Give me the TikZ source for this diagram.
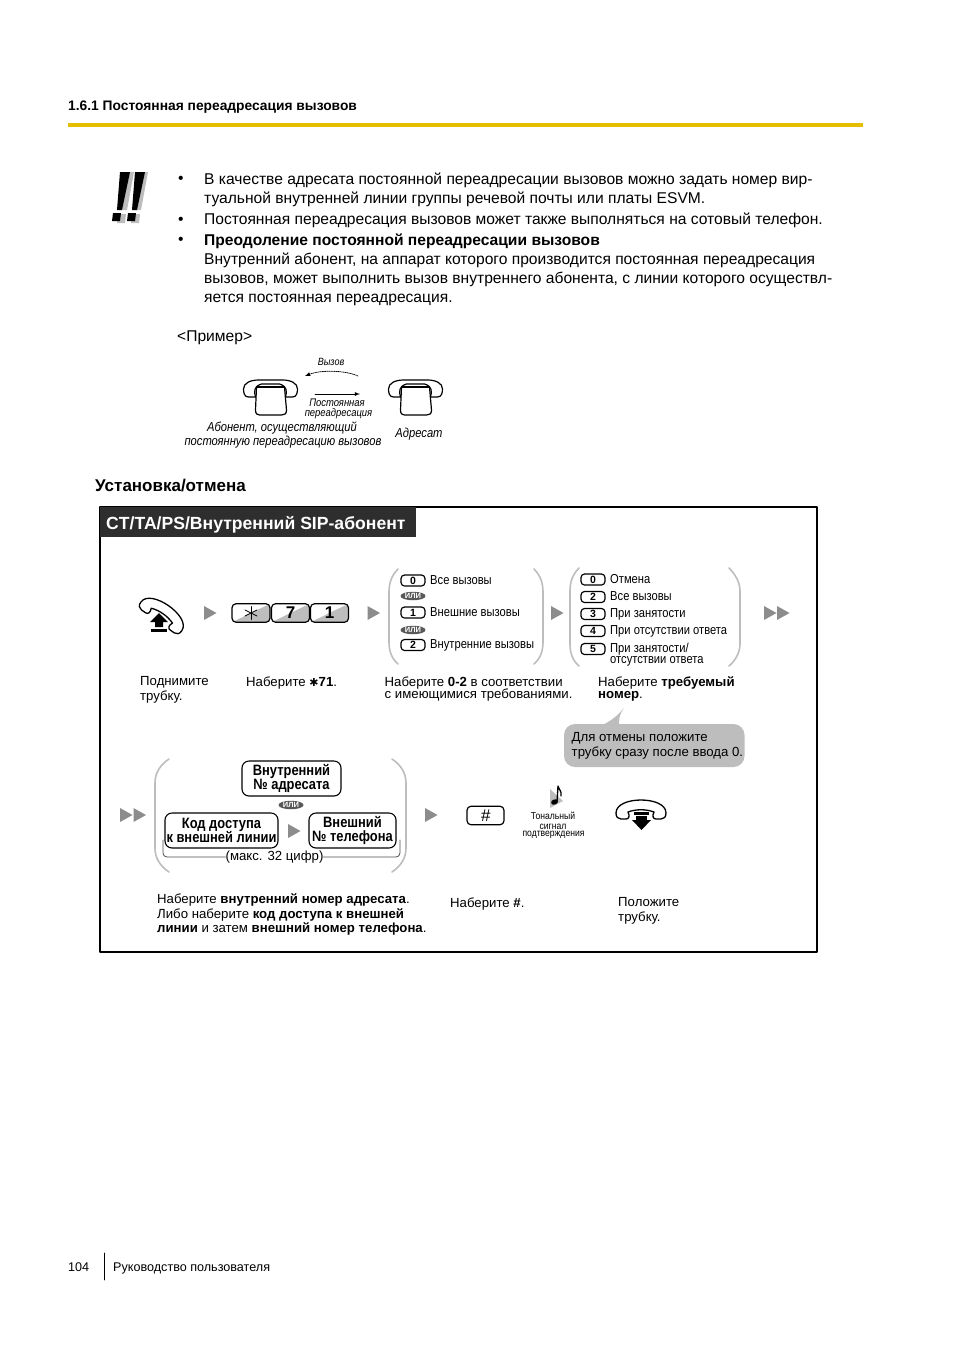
\documentclass[tikz,border=0pt]{standalone}
\usepackage{fontspec}
\setmainfont{Liberation Sans}
\newfontfamily\narrowfont[FakeStretch=0.86]{Liberation Sans}
\newfontfamily\symfont{DejaVu Sans}
\usetikzlibrary{shapes.geometric}
\definecolor{ruleyellow}{HTML}{E6BE00}
\definecolor{softgray}{HTML}{BDBDBD}
\definecolor{stepgray}{HTML}{8C8C8C}
\tikzset{
	bodytext/.style={anchor=base west,inner sep=0pt,font=\fontsize{15.6}{18}\selectfont},
	steptext/.style={anchor=base west,inner sep=0pt,font=\fontsize{13.2}{15}\selectfont},
	listtext/.style={anchor=base west,inner sep=0pt,font=\narrowfont\fontsize{13}{15}\selectfont},
	smalltext/.style={inner sep=0pt,font=\narrowfont\itshape\fontsize{#1}{#1}\selectfont},
	toneline/.style={inner sep=0pt,font=\narrowfont\fontsize{10}{10}\selectfont},
	keycap/.style={draw,line width=1.2pt,rounded corners=3.5pt,inner sep=0pt,minimum width=24pt,minimum height=11pt,font=\bfseries\fontsize{10.5}{10}\selectfont},
	bigkey/.style={draw,line width=1.2pt,rounded corners=4pt,inner sep=0pt,minimum width=38pt,minimum height=18.5pt,font=\bfseries\fontsize{17}{17}\selectfont,
		path picture={\fill[softgray] (path picture bounding box.south west) -- (path picture bounding box.north east) |- cycle;}},
	orbadge/.style={ellipse,fill=black!65,text=white,inner sep=0pt,minimum width=25pt,minimum height=8.5pt,font=\bfseries\fontsize{7.5}{7}\selectfont},
	numberbox/.style={draw,line width=1.1pt,rounded corners=7pt,inner sep=0pt,align=center,font=\narrowfont\bfseries\fontsize{15}{14.5}\selectfont},
	softbrace/.style={draw=softgray,line width=1.6pt},
	pics/steparrow/.style={code={\fill[stepgray] (0,0) -- (12.5,7) -- (0,14) -- cycle;}},
	pics/handset/.style={code={\draw[line width=1.3pt,fill=white] (-25,3) .. controls (-25,-6) and (-12,-10) .. (0,-10) .. controls (12,-10) and (25,-6) .. (25,3) .. controls (25,7) and (23,9) .. (20,9) -- (15,9) .. controls (12,9) and (11,6) .. (13,2) .. controls (5,-1) and (-5,-1) .. (-13,2) .. controls (-11,6) and (-12,9) .. (-15,9) -- (-20,9) .. controls (-23,9) and (-25,7) .. (-25,3) -- cycle;}},
	pics/deskphone/.style={code={
		\draw[line width=1.2pt] (-14,7) -- (-15,30) .. controls (-15,34) and (-13,35) .. (-11,35) -- (11,35) .. controls (14,35) and (16,34) .. (16,30) -- (14,7);
		\draw[line width=1.7pt] (-14,7) -- (14,7);
		\draw[line width=1.2pt] (-15,17) -- (-22,17) .. controls (-26,17) and (-27,13) .. (-27,9) .. controls (-27,3) and (-20,0) .. (-12,0) -- (12,0) .. controls (20,0) and (27,3) .. (27,9) .. controls (27,13) and (26,17) .. (22,17) -- (15,17);
		\draw[line width=1.2pt] (-15,17) .. controls (-17,11) and (-16,6) .. (-9,4) -- (9,4) .. controls (16,6) and (17,11) .. (15,17);
	}},
}
\begin{document}
\begin{tikzpicture}[line cap=round,line join=round,x=1pt,y=-1pt]
	\useasboundingbox (0,0) rectangle (954,1350);
	% page head
	\draw (68,110) node[anchor=base west,inner sep=0pt,font=\bfseries\fontsize{13.8}{16}\selectfont] (headline) {1.6.1 Постоянная переадресация вызовов};
	\fill[ruleyellow] (68,123) rectangle (863,127);
	% warning marks
	\fill[softgray] (125,172) -- (134,172) -- (127,210) -- (122,210) -- cycle;
	\fill[softgray] (118,214) -- (126,214) -- (125,223) -- (117,223) -- cycle;
	\fill[softgray] (139,172) -- (148,172) -- (141,210) -- (136,210) -- cycle;
	\fill[softgray] (132,214) -- (140,214) -- (139,223) -- (131,223) -- cycle;
	\fill (120,172) -- (130,172) -- (122,210) -- (117,210) -- cycle;
	\fill (113,213) -- (121,213) -- (120,221) -- (112,221) -- cycle;
	\fill (135,172) -- (145,172) -- (137,210) -- (132,210) -- cycle;
	\fill (128,213) -- (136,213) -- (135,221) -- (127,221) -- cycle;
	% notes
	\draw (178,183) node[bodytext] (bulletone) {•};
	\draw (204,184) node[bodytext] (noteone) {В качестве адресата постоянной переадресации вызовов можно задать номер вир-};
	\draw (204,203) node[bodytext] (noteonetwo) {туальной внутренней линии группы речевой почты или платы ESVM.};
	\draw (178,224) node[bodytext] (bullettwo) {•};
	\draw (204,224) node[bodytext] (notetwo) {Постоянная переадресация вызовов может также выполняться на сотовый телефон.};
	\draw (178,244) node[bodytext] (bulletthree) {•};
	\draw (204,245) node[bodytext,font=\bfseries\fontsize{15.6}{18}\selectfont] (notethree) {Преодоление постоянной переадресации вызовов};
	\draw (204,264) node[bodytext] (notefour) {Внутренний абонент, на аппарат которого производится постоянная переадресация};
	\draw (204,283) node[bodytext] (notefive) {вызовов, может выполнить вызов внутреннего абонента, с линии которого осуществл-};
	\draw (204,302) node[bodytext] (notesix) {яется постоянная переадресация.};
	\draw (177,341) node[bodytext] (sample) {<Пример>};
	% sample phones
	\draw (270.5,380) pic {deskphone};
	\draw (415.5,380) pic {deskphone};
	\coordinate (callstart) at (358,376);
	\coordinate (callend) at (305,376);
	\coordinate (fwdstart) at (315,394);
	\coordinate (fwdend) at (360,394);
	\draw[densely dotted,line width=.8pt,-latex] (callstart) .. controls (345,370) and (320,370) .. (callend);
	\draw[line width=.8pt,-latex] (fwdstart) -- (fwdend);
	\draw (331,362) node[smalltext=10.5] (callword) {Вызов};
	\draw (337,403) node[smalltext=11] (fwdone) {Постоянная};
	\draw (338.5,414) node[smalltext=11] (fwdtwo) {переадресация};
	\draw (282,428.5) node[smalltext=13] (subone) {Абонент, осуществляющий};
	\draw (283,442) node[smalltext=13] (subtwo) {постоянную переадресацию вызовов};
	\draw (419,434) node[smalltext=13] (target) {Адресат};
	\draw (95,491) node[anchor=base west,inner sep=0pt,font=\bfseries\fontsize{17}{20}\selectfont] (setup) {Установка/отмена};
	% frame
	\draw[line width=1.4pt] (100,507) rectangle (817,952);
	\fill[black!82] (100,507) rectangle (416,537);
	\draw (106,529) node[anchor=base west,inner sep=0pt,text=white,font=\bfseries\fontsize{17.6}{20}\selectfont] (device) {CT/TA/PS/Внутренний SIP-абонент};
	% first row
	\draw (163,614) pic[rotate=-35] {handset};
	\fill (159,613) -- (168,622) -- (163,622) -- (163,627) -- (155,627) -- (155,622) -- (150,622) -- cycle;
	\fill (151,629) rectangle (167,632);
	\draw (204,606) pic {steparrow};
	\draw (251,613) node[bigkey] (keystar) {};
	\draw[line width=.8pt] (251,606.5) -- (251,619.5);
	\draw[line width=.8pt] (245,610) -- (257,616);
	\draw[line width=.8pt] (245,616) -- (257,610);
	\draw (290.5,613) node[bigkey] (keyseven) {7};
	\draw (329.5,613) node[bigkey] (keyone) {1};
	\draw (367.5,606) pic {steparrow};
	\draw[softbrace] (398,569) .. controls (391,576) and (389,584) .. (389,592) -- (389,642) .. controls (389,650) and (391,658) .. (398,664);
	\draw (413,580.5) node[keycap] (callzero) {0};
	\draw (430,584) node[listtext] (callzerotext) {Все вызовы};
	\draw (413,596) node[orbadge] (orone) {ИЛИ};
	\draw (413,612.5) node[keycap] (callone) {1};
	\draw (430,616) node[listtext] (callonetext) {Внешние вызовы};
	\draw (413,630) node[orbadge] (ortwo) {ИЛИ};
	\draw (413,645) node[keycap] (calltwo) {2};
	\draw (430,648) node[listtext] (calltwotext) {Внутренние вызовы};
	\draw[softbrace] (534,569) .. controls (541,576) and (543,584) .. (543,592) -- (543,642) .. controls (543,650) and (541,658) .. (534,664);
	\draw (551,606) pic {steparrow};
	\draw[softbrace] (579,568) .. controls (572,575) and (570,583) .. (570,591) -- (570,644) .. controls (570,652) and (572,660) .. (579,666);
	\draw (593,579.5) node[keycap] (modezero) {0};
	\draw (610,583) node[listtext] (modezerotext) {Отмена};
	\draw (593,597) node[keycap] (modetwo) {2};
	\draw (610,600) node[listtext] (modetwotext) {Все вызовы};
	\draw (593,614) node[keycap] (modethree) {3};
	\draw (610,617) node[listtext] (modethreetext) {При занятости};
	\draw (593,631) node[keycap] (modefour) {4};
	\draw (610,634) node[listtext] (modefourtext) {При отсутствии ответа};
	\draw (593,649) node[keycap] (modefive) {5};
	\draw (610,652) node[listtext] (modefivetext) {При занятости/};
	\draw (610,663) node[listtext] (modefivemore) {отсутствии ответа};
	\draw[softbrace] (729,568) .. controls (736,575) and (740,583) .. (740,591) -- (740,644) .. controls (740,652) and (736,660) .. (729,666);
	\draw (764,606) pic {steparrow};
	\draw (777,606) pic {steparrow};
	% first row captions
	\draw (140,685) node[steptext] (liftone) {Поднимите};
	\draw (140,700) node[steptext] (lifttwo) {трубку.};
	\draw (246,686) node[steptext] (dialstar) {Наберите {\symfont\bfseries\fontsize{11}{11}\selectfont ✱}\textbf{71}.};
	\draw (384.5,686) node[steptext] (chooseone) {Наберите \textbf{0-2} в соответствии};
	\draw (384.5,698) node[steptext] (choosetwo) {с имеющимися требованиями.};
	\draw (598,686) node[steptext] (wantone) {Наберите \textbf{требуемый}};
	\draw (598,698) node[steptext] (wanttwo) {\textbf{номер}.};
	% cancel remark
	\fill[softgray] (596,728) .. controls (606,724) and (616,718) .. (624,708) .. controls (619,715) and (618,722) .. (620,728) -- cycle;
	\fill[softgray,rounded corners=11pt] (564,724) rectangle (744.5,767);
	\draw (571.5,741) node[steptext] (cancelone) {Для отмены положите};
	\draw (571.5,756) node[steptext] (canceltwo) {трубку сразу после ввода 0.};
	% second row
	\draw (120,808) pic {steparrow};
	\draw (133.5,808) pic {steparrow};
	\draw[softbrace] (169,759) .. controls (160,765) and (155,773) .. (155,783) -- (155,848) .. controls (155,858) and (160,866) .. (169,872);
	\draw[softbrace] (392,759) .. controls (401,765) and (406,773) .. (406,783) -- (406,848) .. controls (406,858) and (401,866) .. (392,872);
	\draw (291.5,778.5) node[numberbox,minimum width=99pt,minimum height=35pt] (innernumber) {Внутренний\\№ адресата};
	\draw (291,805) node[orbadge] (orthree) {ИЛИ};
	\draw (221.5,830.5) node[numberbox,minimum width=113pt,minimum height=35pt] (linecode) {Код доступа\\к внешней линии};
	\draw (288,824) pic {steparrow};
	\draw (352.5,830.5) node[numberbox,minimum width=87pt,minimum height=35pt] (outernumber) {Внешний\\№ телефона};
	\draw (274.5,857) node[inner sep=0pt,font=\fontsize{13.2}{15}\selectfont] (maxdigits) {(макс. 32 цифр)};
	\coordinate (capleft) at (163,840);
	\coordinate (capright) at (400,840);
	\draw[line width=.8pt,black!70,rounded corners=4pt] (capleft) |- (maxdigits.west);
	\draw[line width=.8pt,black!70,rounded corners=4pt] (capright) |- (maxdigits.east);
	\draw (425,808) pic {steparrow};
	\draw (485.5,815.5) node[draw,line width=1.2pt,rounded corners=4pt,inner sep=0pt,minimum width=37pt,minimum height=18.5pt,font=\itshape\fontsize{17}{17}\selectfont] (keyhash) {\#};
	% tone mark
	\fill[softgray] (550,789) -- (550,808) -- (563,801) -- cycle;
	\draw[line width=1.3pt] (557,802) -- (558,786) .. controls (559,790) and (562,791) .. (561,796);
	\fill[rotate around={20:(554.5,802)}] (554.5,802) ellipse (3.5 and 2.6);
	\draw (553,816) node[toneline] (toneone) {Тональный};
	\draw (553,826.5) node[toneline] (tonetwo) {сигнал};
	\draw (553.5,835) node[toneline] (tonethree) {подтверждения};
	\draw (641,810) pic {handset};
	\fill (634,812) rectangle (649,814.5);
	\fill (636,816) rectangle (647,820);
	\fill (632,820) -- (651,820) -- (641.5,830) -- cycle;
	% second row captions
	\draw (157,903) node[steptext] (destone) {Наберите \textbf{внутренний номер адресата}.};
	\draw (157,918) node[steptext] (desttwo) {Либо наберите \textbf{код доступа к внешней}};
	\draw (157,932) node[steptext] (destthree) {\textbf{линии} и затем \textbf{внешний номер телефона}.};
	\draw (450,907) node[steptext] (dialhash) {Наберите \textbf{\#}.};
	\draw (618,906) node[steptext] (dropone) {Положите};
	\draw (618,921) node[steptext] (droptwo) {трубку.};
	% page foot
	\draw (68,1271) node[anchor=base west,inner sep=0pt,font=\fontsize{12.6}{15}\selectfont] (pagenumber) {104};
	\draw[line width=.9pt] (104,1253) -- (104,1280);
	\draw (113,1271) node[anchor=base west,inner sep=0pt,font=\fontsize{12.6}{15}\selectfont] (guide) {Руководство пользователя};
\end{tikzpicture}
\end{document}
